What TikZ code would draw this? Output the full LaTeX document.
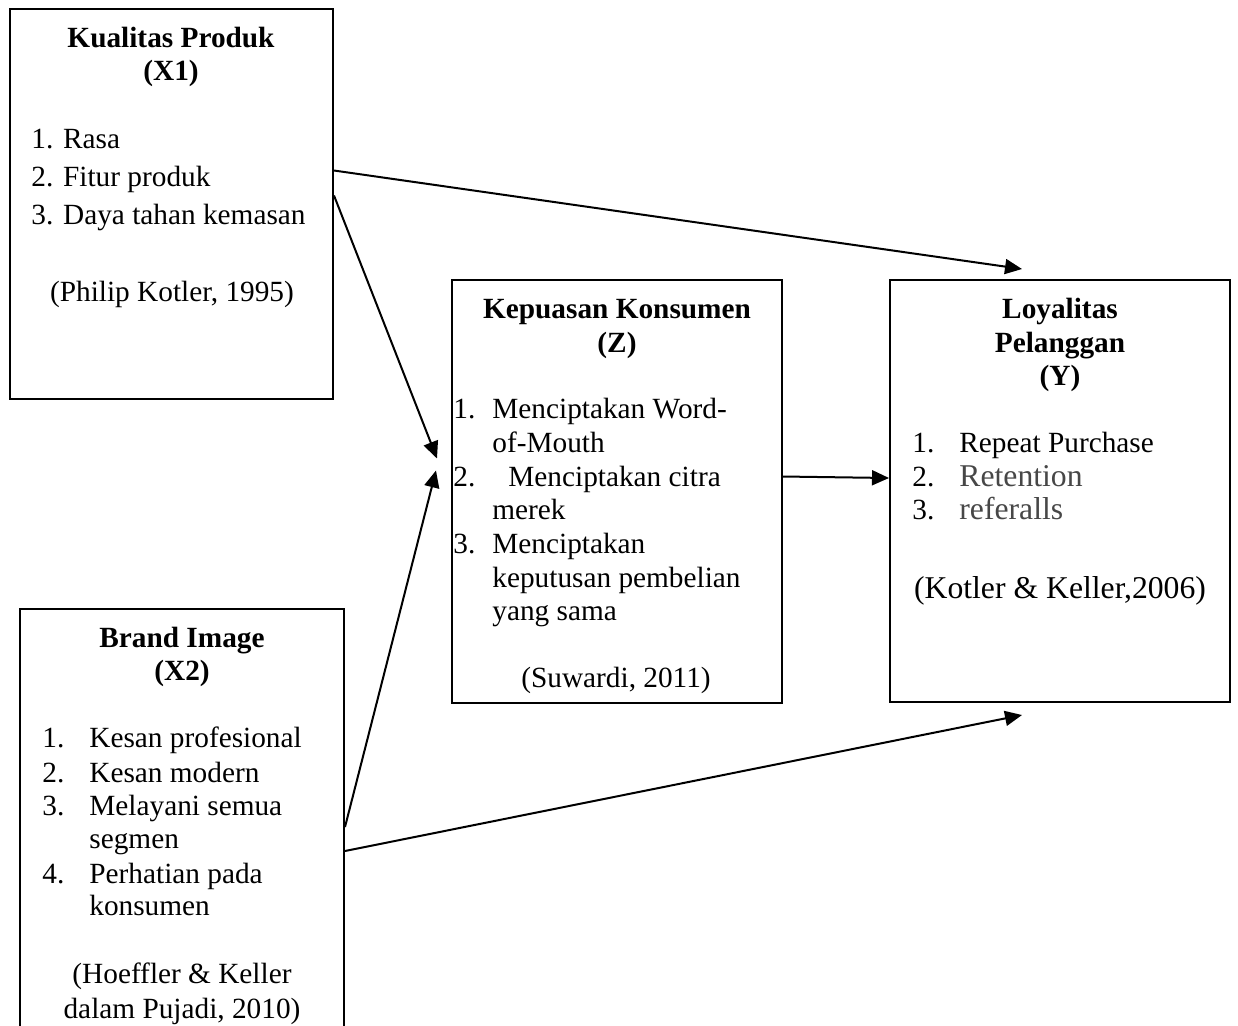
\documentclass[tikz,border=0pt]{standalone}
\usepackage{fontspec}
\setmainfont{Liberation Serif}
\usetikzlibrary{calc,arrows.meta}
\begin{document}
\begin{tikzpicture}[x=0.5pt,y=-0.5pt,
  box/.style={draw,line width=1pt,rectangle,inner sep=0pt},
  txt/.style={font=\fontsize{14.65pt}{17.5pt}\selectfont,inner sep=0pt,anchor=base},
  ttl/.style={txt,font=\fontsize{14.65pt}{17.5pt}\selectfont\bfseries},
  lst/.style={txt,anchor=base west},
  big/.style={font=\fontsize{15.85pt}{19pt}\selectfont},
  gr/.style={text=black!72},
  conn/.style={line width=1pt,-{Triangle[length=8.5pt,width=7.5pt]}}]
\useasboundingbox (0,0) rectangle (1238,1025);
\clip (0,0) rectangle (1238,1025);
% boxes
\node[box,minimum width=161.5pt,minimum height=195pt] (x1) at (171.5,203.5) {};
\node[box,minimum width=165pt,minimum height=211.5pt] (z) at (617,491.5) {};
\node[box,minimum width=170pt,minimum height=211pt] (y) at (1060,491) {};
\node[box,minimum width=162pt,minimum height=218pt] (x2) at (182,827) {};
% X1 texts
\node[ttl] (x1t1) at (171,47) {Kualitas Produk};
\node[ttl] (x1t2) at (171,80) {(X1)};
\node[lst] (x1l1) at (31,148) {1. Rasa};
\node[lst] (x1l2) at (31,186) {2. Fitur produk};
\node[lst] (x1l3) at (31,224) {3. Daya tahan kemasan};
\node[txt] (x1s) at (172,301) {(Philip Kotler, 1995)};
% Z texts
\node[ttl] (zt1) at (617,318) {Kepuasan Konsumen};
\node[ttl] (zt2) at (617,352) {(Z)};
\node[lst] (zn1) at (453,418) {1.};
\node[lst] (zl1) at (492,418) {Menciptakan Word-};
\node[lst] (zl1b) at (492,452) {of-Mouth};
\node[lst] (zn2) at (453,486) {2.};
\node[lst] (zl2) at (508,486) {Menciptakan citra};
\node[lst] (zl2b) at (492,519) {merek};
\node[lst] (zn3) at (453,553) {3.};
\node[lst] (zl3) at (492,553) {Menciptakan};
\node[lst] (zl3b) at (492,587) {keputusan pembelian};
\node[lst] (zl3c) at (492,620) {yang sama};
\node[txt] (zs) at (616,687) {(Suwardi, 2011)};
% Y texts
\node[ttl] (yt1) at (1060,318) {Loyalitas};
\node[ttl] (yt2) at (1060,352) {Pelanggan};
\node[ttl] (yt3) at (1060,385) {(Y)};
\node[lst] (yn1) at (912,452) {1.};
\node[lst] (yl1) at (959,452) {Repeat Purchase};
\node[lst] (yn2) at (912,486) {2.};
\node[lst,big,gr] (yl2) at (959,486) {Retention};
\node[lst] (yn3) at (912,519) {3.};
\node[lst,big,gr] (yl3) at (959,519) {referalls};
\node[txt,big] (ys) at (1060,598) {(Kotler \& Keller,2006)};
% X2 texts
\node[ttl] (x2t1) at (182,647) {Brand Image};
\node[ttl] (x2t2) at (182,680) {(X2)};
\node[lst] (x2n1) at (42,747) {1.};
\node[lst] (x2l1) at (89,747) {Kesan profesional};
\node[lst] (x2n2) at (42,782) {2.};
\node[lst] (x2l2) at (89,782) {Kesan modern};
\node[lst] (x2n3) at (42,815) {3.};
\node[lst] (x2l3) at (89,815) {Melayani semua};
\node[lst] (x2l3b) at (89,848) {segmen};
\node[lst] (x2n4) at (42,883) {4.};
\node[lst] (x2l4) at (89,883) {Perhatian pada};
\node[lst] (x2l4b) at (89,915) {konsumen};
\node[txt] (x2s1) at (182,983) {(Hoeffler \& Keller};
\node[txt] (x2s2) at (182,1018) {dalam Pujadi, 2010)};
% connectors
\draw[conn] ($(x1.east)+(0,-33)$) -- ($(y.north)+(-38,-10)$);
\draw[conn] ($(x1.east)+(0,-8)$) -- ($(z.west)+(-14,-33)$);
\draw[conn] (x2.east) -- ($(z.west)+(-15,-21)$);
\draw[conn] ($(x2.east)+(0,24)$) -- ($(y.south)+(-38,12)$);
\draw[conn] ($(z.east)+(0,-15)$) -- ($(y.west)+(0,-13)$);
\end{tikzpicture}
\end{document}
